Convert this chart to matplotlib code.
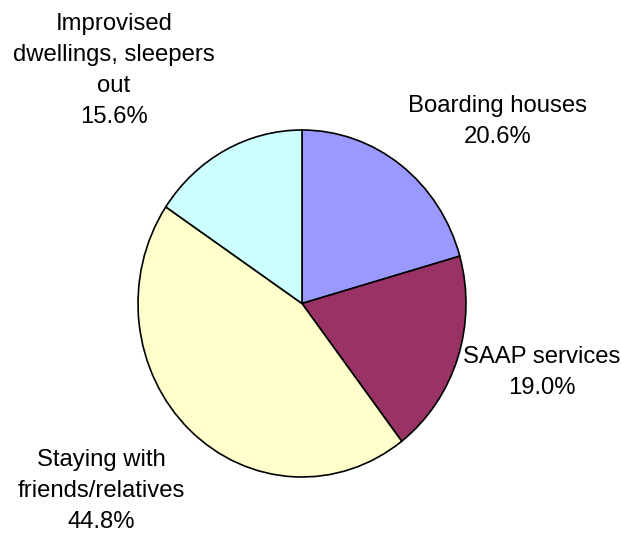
import matplotlib
matplotlib.use("Agg")
import matplotlib.pyplot as plt

# Accommodation types of people experiencing homelessness
categories = ["Boarding houses", "SAAP services",
              "Staying with\nfriends/relatives",
              "Improvised\ndwellings, sleepers\nout"]
shares = [20.6, 19.0, 44.8, 15.6]
colors = ["#9999FF", "#993366", "#FFFFCC", "#CCFFFF"]

# label anchor positions in pie units (radius = 1)
label_pos = [(1.195, 1.05), (1.463, -0.40), (-1.226, -1.08), (-1.146, 1.343)]

plt.rcParams["font.family"] = ["Liberation Sans", "DejaVu Sans"]

fig = plt.figure(figsize=(6.21, 5.33), dpi=100)
ax = fig.add_axes([138 / 621, 56 / 533, 328 / 621, 347 / 533])

ax.pie(shares, colors=colors, startangle=90, counterclock=False,
       wedgeprops=dict(edgecolor="black", linewidth=1.2))
ax.set_aspect("auto")
ax.set_xlim(-1, 1)
ax.set_ylim(-1, 1)
ax.axis("off")

for name, val, (x, y) in zip(categories, shares, label_pos):
    ax.text(x, y, f"{name}\n{val:.1f}%", ha="center", va="center",
            fontsize=17.2, linespacing=1.52, color="black", clip_on=False)

fig.savefig("out.png", dpi=100, facecolor="white")
